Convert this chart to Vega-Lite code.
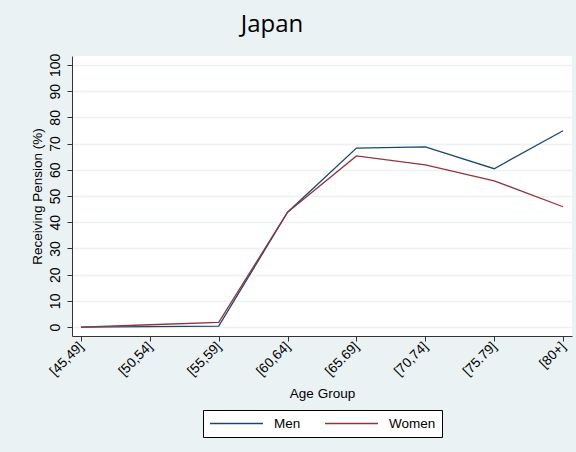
{
  "$schema": "https://vega.github.io/schema/vega-lite/v6.json",
  "autosize": "none",
  "width": 500,
  "height": 280,
  "padding": {"left": 72, "top": 56, "right": 4, "bottom": 116},
  "background": "#eaf2f3",
  "title": {
    "text": "Japan",
    "font": "Open Sans",
    "fontSize": 24,
    "fontWeight": "normal",
    "color": "#000000",
    "anchor": "middle",
    "frame": "group",
    "dx": -50,
    "baseline": "alphabetic",
    "offset": -3
  },
  "data": {
    "values": [
      {"age": "[45,49]", "sex": "Men", "pct": 0.0},
      {"age": "[50,54]", "sex": "Men", "pct": 0.2},
      {"age": "[55,59]", "sex": "Men", "pct": 0.4},
      {"age": "[60,64]", "sex": "Men", "pct": 43.8},
      {"age": "[65.69]", "sex": "Men", "pct": 68.3},
      {"age": "[70,74]", "sex": "Men", "pct": 68.7},
      {"age": "[75.79]", "sex": "Men", "pct": 60.4},
      {"age": "[80+]", "sex": "Men", "pct": 74.9},
      {"age": "[45,49]", "sex": "Women", "pct": 0.0},
      {"age": "[50,54]", "sex": "Women", "pct": 0.9},
      {"age": "[55,59]", "sex": "Women", "pct": 1.8},
      {"age": "[60,64]", "sex": "Women", "pct": 43.8},
      {"age": "[65.69]", "sex": "Women", "pct": 65.3},
      {"age": "[70,74]", "sex": "Women", "pct": 61.9},
      {"age": "[75.79]", "sex": "Women", "pct": 55.8},
      {"age": "[80+]", "sex": "Women", "pct": 45.9}
    ]
  },
  "mark": {"type": "line", "strokeWidth": 1.3},
  "encoding": {
    "x": {
      "field": "age",
      "type": "ordinal",
      "sort": null,
      "scale": {"type": "point", "padding": 0.13},
      "axis": {
        "title": "Age Group",
        "labelAngle": -45,
        "labelAlign": "right",
        "labelBaseline": "middle",
        "labelFontSize": 13.5,
        "labelPadding": 3,
        "titlePadding": 9,
        "grid": false
      }
    },
    "y": {
      "field": "pct",
      "type": "quantitative",
      "scale": {"domain": [-3.4, 103.4], "nice": false, "zero": false},
      "axis": {
        "title": "Receiving Pension (%)",
        "values": [0, 10, 20, 30, 40, 50, 60, 70, 80, 90, 100],
        "labelAngle": -90,
        "labelAlign": "center",
        "labelBaseline": "bottom",
        "labelFontSize": 14,
        "labelPadding": 5,
        "titlePadding": 4,
        "grid": true
      }
    },
    "color": {
      "field": "sex",
      "type": "nominal",
      "scale": {"domain": ["Men", "Women"], "range": ["#1a476f", "#90353b"]},
      "legend": {
        "title": null,
        "orient": "bottom",
        "direction": "horizontal",
        "symbolType": "stroke",
        "symbolSize": 2800,
        "symbolStrokeWidth": 1.5,
        "clipHeight": 15,
        "fillColor": "#ffffff",
        "strokeColor": "#000000",
        "padding": 6,
        "offset": 9,
        "columnPadding": 23,
        "labelOffset": 10
      }
    }
  },
  "config": {
    "view": {"fill": "#ffffff", "stroke": null},
    "font": "Liberation Sans",
    "axis": {
      "labelFont": "Liberation Sans",
      "titleFont": "Liberation Sans",
      "labelFontSize": 13,
      "titleFontSize": 13.5,
      "titleFontWeight": "normal",
      "labelColor": "#000000",
      "titleColor": "#000000",
      "domainColor": "#333333",
      "tickColor": "#333333",
      "tickSize": 5,
      "gridColor": "#eaf2f3",
      "gridWidth": 1.5
    },
    "legend": {
      "labelFont": "Liberation Sans",
      "labelFontSize": 13.5,
      "labelColor": "#000000",
      "layout": {"bottom": {"anchor": "middle"}}
    }
  }
}
